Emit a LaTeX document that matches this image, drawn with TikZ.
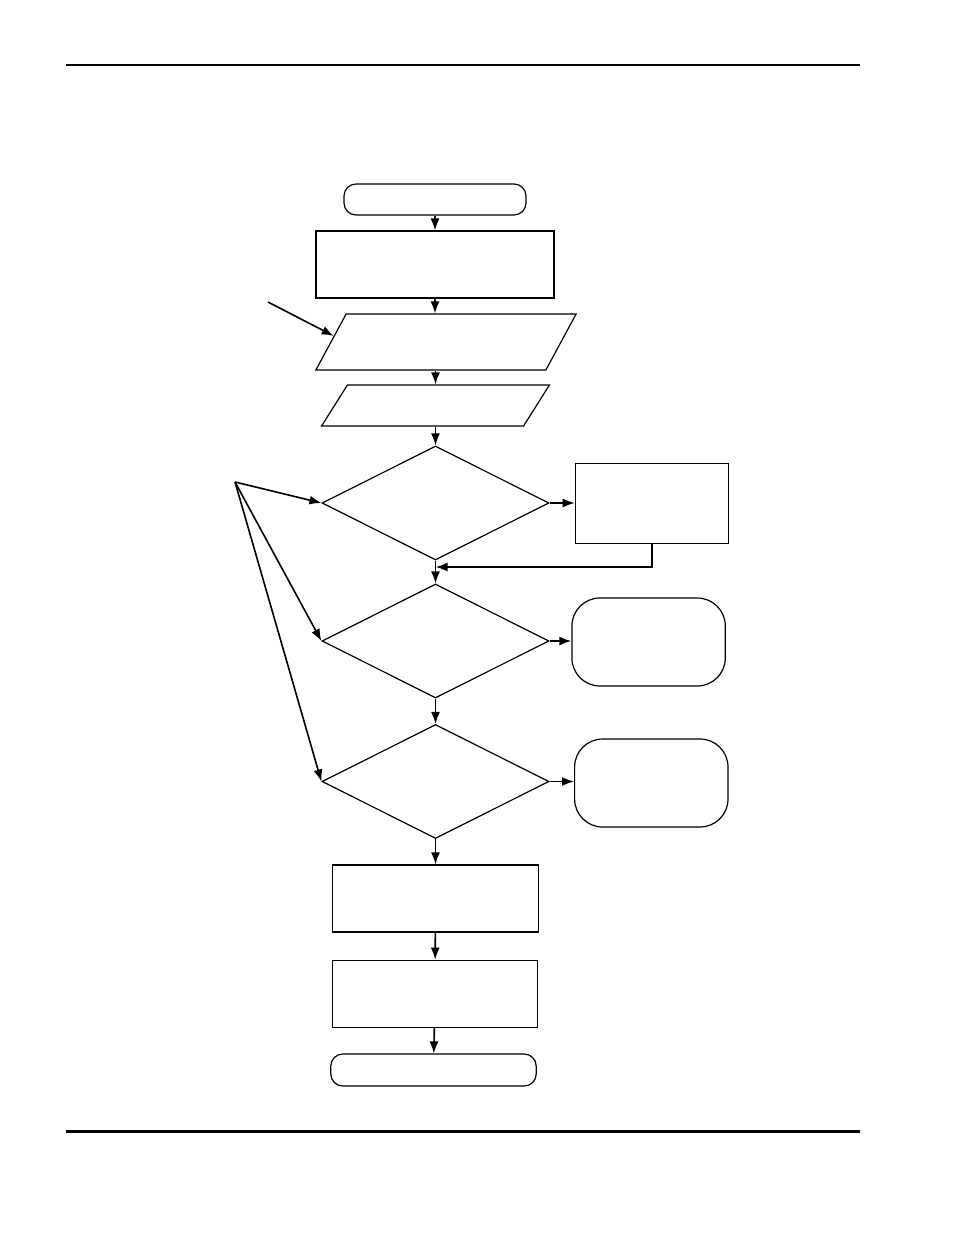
\documentclass[tikz,border=0pt]{standalone}
\usetikzlibrary{shapes.geometric,arrows.meta}
\begin{document}
\begin{tikzpicture}[x=0.5pt,y=-0.5pt]
	\useasboundingbox (0,0) rectangle (954,1235);
	\tikzstyle{outline}=[draw, line width=0.6pt, inner sep=0pt]
	\tikzstyle{term}=[outline, rectangle, rounded corners=6pt]
	\tikzstyle{halt}=[outline, rectangle, rounded corners=14pt, minimum width=76.7pt, minimum height=44pt]
	\tikzstyle{proc}=[outline, rectangle]
	\tikzstyle{io}=[outline, rectangle]
	\tikzstyle{test}=[outline, diamond, minimum width=113.5pt, minimum height=57pt]
	\tikzstyle{flow}=[line width=0.8pt, -{Latex[length=6pt,width=4.5pt]}]
	\tikzstyle{rule}=[line width=0.7pt]
	\draw[rule] (66,65) -- (860,65);
	\draw[rule, line width=1.5pt] (66,1131) -- (860,1131);
	\node[term, minimum width=91pt, minimum height=15.5pt] (begin) at (435,199.5) {};
	\node[proc, minimum width=119pt, minimum height=33.5pt] (setup) at (435,264.5) {};
	\node[io, xslant=0.54, minimum width=115pt, minimum height=28pt] (read) at (446,342) {};
	\node[io, xslant=0.63, minimum width=101pt, minimum height=20.5pt] (input) at (435.5,405.5) {};
	\node[test] (check1) at (435.5,503) {};
	\node[test] (check2) at (435.5,641) {};
	\node[test] (check3) at (435.5,781.5) {};
	\node[proc, minimum width=76.7pt, minimum height=40pt] (fix) at (652,503.3) {};
	\node[halt] (abort1) at (648.6,642) {};
	\node[halt] (abort2) at (651.3,783) {};
	\node[proc, minimum width=102.7pt, minimum height=33.5pt] (calc) at (435.5,898.5) {};
	\node[proc, minimum width=102.7pt, minimum height=33.5pt] (save) at (435,993.7) {};
	\node[term, minimum width=102.7pt, minimum height=16pt] (finish) at (433.5,1070) {};
	\coordinate (src) at (235,482);
	\coordinate (note) at (268,302);
	\coordinate (merge) at (435.5,567);
	\draw[flow] (begin) -- (setup);
	\draw[flow] (setup) -- (setup |- read.north);
	\draw[flow] (read.south -| check1) -- (input.north -| check1);
	\draw[flow] (input.south -| check1) -- (check1);
	\draw[flow] (check1) -- (check2);
	\draw[flow] (check2) -- (check3);
	\draw[flow] (check3) -- (calc);
	\draw[flow] (calc) -- (save);
	\draw[flow] (save) -- (finish);
	\draw[flow] (check1.east) -- (check1.east -| fix.west);
	\draw[flow] (check2.east) -- (check2.east -| abort1.west);
	\draw[flow] (check3.east) -- (check3.east -| abort2.west);
	\draw[flow, line width=1pt] (fix.south) |- (merge);
	\foreach \d in {check1,check2,check3}
		\draw[flow] (src) -- (\d.west);
	\draw[flow] (note) -- (read.177);
\end{tikzpicture}
\end{document}
